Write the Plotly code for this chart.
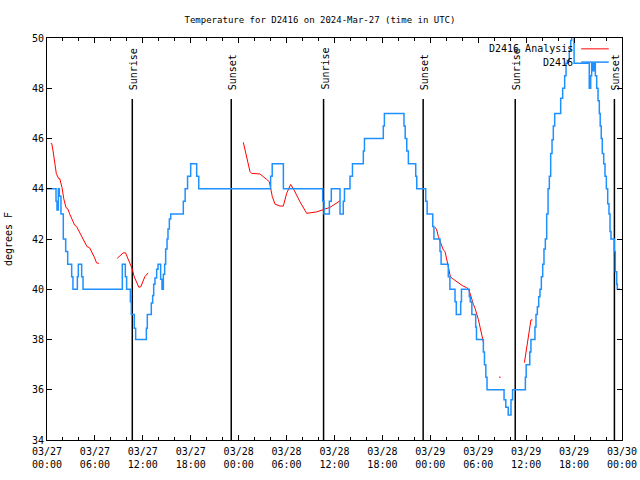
import plotly.graph_objects as go

# Observed temperature (hours since 2024-03-27 00:00 UTC, degrees F), drawn as steps
obs_hours = [0, 1.13, 1.25, 1.42, 1.54, 1.75, 2.04, 2.34, 2.59, 3.09,
             3.25, 3.8, 3.92, 4.34, 4.51, 9.43, 9.81, 9.97, 10.44, 10.56,
             10.93, 11.1, 12.44, 12.56, 13.06, 13.23, 13.36, 13.52, 13.73, 13.9,
             14.23, 14.4, 14.57, 14.73, 14.86, 15.03, 15.15, 15.32, 15.49, 17.07,
             17.3, 17.6, 17.99, 18.74, 19.0, 28.0, 28.2, 29.6, 34.52, 34.69,
             35.36, 35.6, 36.69, 37.1, 37.25, 37.94, 38.25, 39.61, 39.75, 42.11,
             42.25, 44.7, 44.85, 45.05, 45.25, 46.17, 46.3, 47.42, 47.6, 48.3,
             48.45, 49.21, 49.35, 50.25, 50.45, 51.09, 51.25, 51.8, 51.9, 52.88,
             53.0, 53.2, 53.68, 53.78, 54.64, 54.78, 54.95, 55.1, 57.23, 57.45,
             57.75, 58.1, 58.3, 59.9, 60.0, 60.45, 60.6, 61.1, 61.23, 61.4,
             61.57, 61.73, 61.9, 62.07, 62.23, 62.4, 62.57, 62.74, 62.9, 63.07,
             63.24, 63.4, 63.57, 64.32, 64.57, 64.82, 64.99, 65.15, 65.4, 65.58,
             65.7, 66.0, 67.9, 68.08, 68.2, 68.35, 68.49, 68.66, 68.83, 69.0,
             69.16, 69.27, 69.4, 69.53, 69.71, 69.87, 70.04, 70.21, 70.37, 70.5,
             70.62, 71.04, 71.16, 71.34, 71.41, 71.75]
obs_temps = [44, 43.5, 43.15, 44, 43.7, 43, 42, 41.5, 41, 40.5,
             40, 40.5, 41, 40.5, 40, 41, 40.5, 40, 39.5, 39,
             38.45, 38, 38.45, 39, 39.45, 39.75, 40.2, 40.45, 40.8, 41,
             40.4, 40, 40.6, 41, 41.6, 42, 42.4, 42.8, 43, 43.5,
             44, 44.5, 45, 44.5, 44, 44.5, 45, 44, 43.5, 43,
             43.5, 44, 43, 43.5, 44, 44.5, 45, 45.5, 46, 46.5,
             47, 46.5, 46, 45.5, 45, 44.5, 44, 43.5, 43, 42.5,
             42, 41.5, 41, 40.5, 40, 39.5, 39, 39.5, 40, 39.7,
             39.5, 39, 38.5, 38, 37.5, 37, 36.5, 36, 35.6, 35.3,
             35, 35.6, 36, 36.5, 37, 37.5, 38, 38.5, 39, 39.3,
             39.7, 40, 40.5, 41, 41.6, 42, 43, 44, 44.5, 45.4,
             45.95, 46.5, 47, 47.6, 48, 48.5, 49, 49.1, 49.5, 49.9,
             50.3, 49, 48, 48.5, 49, 48.7, 49, 48.5, 48, 47.5,
             47, 46.5, 46, 45.4, 45, 44.5, 44, 43.4, 43, 42.3,
             42, 41.5, 40.7, 40.2, 40, 40]

# Analysis temperature (None = gap)
analysis_hours = [0.47, 0.6, 0.76, 1.0, 1.17, 1.46, 1.6, 1.88, 2.1, 2.38,
                  2.6, 2.84, 3.1, 3.46, 3.7, 4.09, 4.4, 4.72, 5.0, 5.34,
                  5.6, 5.97, 6.2, 6.5, None,
                  8.79, 9.2, 9.54, 9.83, 10.1, 10.37, 10.65, 10.92, 11.2, 11.5,
                  11.75, 12.0, 12.25, 12.67, None,
                  24.58, 25.0, 25.42, 25.63, 26.67, 27.5, 27.84, 28.21, 28.55, 29.18,
                  29.59, 30.01, 30.51, 30.93, 31.68, 32.52, 33.15, 33.77, 34.6, 35.44,
                  36.06, 36.69, None,
                  48.59, 48.8, 49.0, 49.21, 49.42, 49.63, 49.84, 50.05, 50.25, 50.46,
                  50.59, 50.88, 51.3, 51.72, 52.13, 52.55, 52.76, 52.97, 53.18, 53.39,
                  53.6, 53.81, 54.01, 54.22, 54.43, 54.64, None,
                  56.6, 56.8, None,
                  59.78, 60.12, 60.45, 60.6, 60.79]
analysis_temps = [45.81, 45.8, 45.5, 45.0, 44.6, 44.4, 44.4, 44.05, 43.6, 43.25,
                  43.2, 43.0, 42.8, 42.55, 42.5, 42.25, 42.05, 41.9, 41.7, 41.65,
                  41.5, 41.25, 41.05, 41.03, None,
                  41.23, 41.35, 41.45, 41.45, 41.25, 41.1, 40.83, 40.5, 40.3, 40.08,
                  40.1, 40.3, 40.5, 40.65, None,
                  45.85, 45.28, 44.68, 44.61, 44.59, 44.37, 44.28, 43.69, 43.39, 43.31,
                  43.31, 43.82, 44.17, 43.95, 43.48, 43.02, 43.06, 43.08, 43.17, 43.26,
                  43.39, 43.52, None,
                  42.47, 42.36, 42.1, 41.9, 41.7, 41.56, 41.5, 41.23, 40.9, 40.57,
                  40.47, 40.4, 40.3, 40.2, 40.12, 40.07, 40.0, 39.84, 39.57, 39.4,
                  39.24, 39.05, 38.8, 38.5, 38.2, 37.9, None,
                  36.5, 36.5, None,
                  37.08, 37.85, 38.58, 38.78, 38.78]

sunrise_hours = [10.68, 34.63, 58.63]
sunset_hours = [23.07, 47.1, 71.05]

tick_hours = list(range(0, 73, 6))
tick_labels = ["03/%02d<br>%02d:00" % (27 + h // 24, h % 24) for h in tick_hours]

FONT = "DejaVu Sans Mono"

fig = go.Figure()
fig.add_trace(go.Scatter(x=analysis_hours, y=analysis_temps, mode="lines",
                         name="D2416 Analysis", connectgaps=False,
                         line=dict(color="#ff0000", width=1)))
fig.add_trace(go.Scatter(x=obs_hours, y=obs_temps, mode="lines", name="D2416",
                         line=dict(color="#1e90ff", width=1.5, shape="hv")))

for hrs, label in ((sunrise_hours, "Sunrise"), (sunset_hours, "Sunset")):
    for h in hrs:
        fig.add_shape(type="line", xref="x", yref="y", x0=h, x1=h, y0=34, y1=47.57,
                      line=dict(color="black", width=1.5), layer="below")
        fig.add_annotation(x=h, y=47.85, xref="x", yref="y", text=label,
                           textangle=-90, showarrow=False, xanchor="center",
                           yanchor="bottom", xshift=1,
                           font=dict(family=FONT, size=10, color="black"))

# gnuplot-style legend: text then sample line
legend_rows = [("D2416 Analysis", "#ff0000", 1, 0.973), ("D2416", "#1e90ff", 1.5, 0.940)]
for text, color, width, yy in legend_rows:
    fig.add_annotation(x=0.918, y=yy, xref="paper", yref="paper", text=text,
                       showarrow=False, xanchor="right", yanchor="middle",
                       font=dict(family=FONT, size=10, color="black"))
    fig.add_shape(type="line", xref="paper", yref="paper", x0=0.929, x1=0.977,
                  y0=yy, y1=yy, line=dict(color=color, width=width))

fig.update_layout(
    width=640, height=480,
    margin=dict(l=47, r=18, t=38, b=40, autoexpand=False),
    paper_bgcolor="white", plot_bgcolor="white",
    showlegend=False,
    font=dict(family=FONT, size=10, color="black"),
    title=dict(text="Temperature for D2416 on 2024-Mar-27 (time in UTC)",
               x=0.5, xref="container", xanchor="center",
               y=1 - 20 / 480, yref="container", yanchor="middle",
               font=dict(family=FONT, size=9, color="black")),
    xaxis=dict(range=[0, 72], tickmode="array", tickvals=tick_hours, ticktext=tick_labels,
               ticks="inside", ticklen=5, tickcolor="black", showline=True,
               linecolor="black", linewidth=1, mirror="allticks", showgrid=False,
               zeroline=False, automargin=False, ticklabelstandoff=2,
               minor=dict(tickmode="linear", tick0=0, dtick=2, ticks="inside",
                          ticklen=3, tickcolor="black", showgrid=False)),
    yaxis=dict(range=[34, 50], tickmode="linear", tick0=34, dtick=2,
               ticks="inside", ticklen=5, tickcolor="black", showline=True,
               linecolor="black", linewidth=1, mirror="allticks", showgrid=False,
               zeroline=False, automargin=False,
               title=dict(text="degrees F", standoff=17,
                          font=dict(family=FONT, size=10))),
)

fig.write_html("out.html", config={"displayModeBar": False},
               post_script="document.body.style.margin='0';document.body.style.overflow='hidden';")
